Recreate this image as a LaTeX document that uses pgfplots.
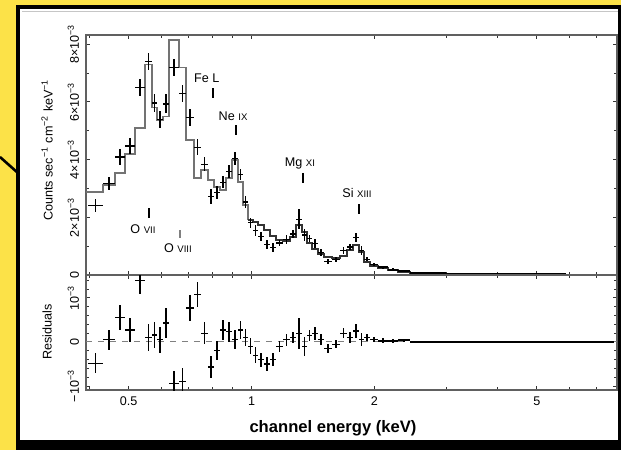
\documentclass[border=0pt]{standalone}
\usepackage{pgfplots}
\pgfplotsset{compat=1.18}
\usepackage{fontspec}
\setmainfont{Liberation Sans}
\definecolor{bgyellow}{RGB}{252,226,72}
\definecolor{modelgray}{RGB}{115,115,115}
\newcommand{\tf}{\fontsize{6.3}{7}\selectfont}
\newcommand{\sm}[1]{{\fontsize{4.8}{6}\selectfont #1}}
\begin{document}
\begin{tikzpicture}
\fill[bgyellow] (0,0) rectangle (310.5pt,225pt);
\fill[black] (8pt,0pt) rectangle (310.5pt,222.5pt);
\fill[white] (10pt,5pt) rectangle (309pt,220.5pt);
\draw[gray!45, line width=0.8pt] (11pt,219.3pt) -- (309pt,219.3pt);
\draw[black, line width=1.3pt] (0pt,146.5pt) -- (9pt,138.5pt);

\begin{axis}[scale only axis, width=265.5pt, xmode=log, xmin=0.393, xmax=7.86,
    xtick={0.5,1,2,5}, minor xtick={0.4,0.6,0.7,0.8,0.9,3,4,6,7},
    tick align=inside, major tick length=2.2pt, minor tick length=1.3pt,
    axis line style={gray!75!black, line width=0.6pt},
    tick style={black!80, line width=0.5pt},
    tick label style={font=\tf},
    yticklabel style={rotate=90, anchor=south},
  at={(43pt,87.5pt)}, anchor=south west, height=120pt,
  ymin=0, ymax=8.32, ytick={0,2,4,6,8}, minor ytick={1,3,5,7},
  yticklabels={0,{2×10\textsuperscript{−3}},{4×10\textsuperscript{−3}},{6×10\textsuperscript{−3}},{8×10\textsuperscript{−3}}},
  xticklabels={}]
\addplot[const plot, modelgray, line width=0.7pt] coordinates {
(0.3930,2.88) (0.4322,3.12) (0.4625,3.54) (0.4894,4.20) (0.5178,5.10)
(0.5480,7.30) (0.5701,5.80) (0.5864,5.35) (0.6066,5.50) (0.6274,8.15)
(0.6638,7.20) (0.6906,4.68) (0.7224,3.36) (0.7516,3.64) (0.7819,3.29)
(0.8089,3.05) (0.8368,2.95) (0.8656,3.36) (0.8953,3.99) (0.9262,3.22)
(0.9526,2.43) (0.9799,1.91)
};
\addplot[const plot, black!80, line width=0.85pt] coordinates {
(0.9799,1.91) (1.0079,1.84) (1.0368,1.73) (1.0725,1.56)
(1.1094,1.35) (1.1477,1.21) (1.1939,1.18) (1.2418,1.32) (1.2846,1.73)
(1.3288,1.49) (1.3668,1.11) (1.4060,0.90) (1.4544,0.73) (1.5045,0.62)
(1.5740,0.59) (1.6467,0.66) (1.7131,0.87) (1.7721,1.04) (1.8332,0.80)
(1.8862,0.45) (1.9511,0.31) (2.0411,0.24) (2.1596,0.17) (2.2849,0.10)
(2.4449,0.07) (2.7059,0.055) (2.9950,0.045) (3.3533,0.035) (3.7967,0.028)
(4.3470,0.022) (5.0339,0.018) (5.8970,0.014) (6.9837,0.012) (7.7326,0.012)
};
\addplot[black, only marks, mark=*, mark size=0pt, mark options={draw opacity=0, fill opacity=0},
    error bars/.cd, x dir=both, x explicit, y dir=both, y explicit,
    error mark=none, error bar style={black, line width=0.6pt}] coordinates {
(0.4147,2.40) +- (0.0175,0.23)
(0.4474,3.17) +- (0.0152,0.23)
(0.4760,4.09) +- (0.0135,0.28)
(0.5036,4.47) +- (0.0142,0.27)
(0.5329,6.50) +- (0.0151,0.30)
(0.5591,7.40) +- (0.0111,0.30)
(0.5783,5.96) +- (0.0082,0.30)
(0.5965,5.40) +- (0.0101,0.30)
(0.6170,5.93) +- (0.0104,0.33)
(0.6456,7.20) +- (0.0182,0.30)
(0.6772,6.30) +- (0.0134,0.30)
(0.7065,5.45) +- (0.0159,0.30)
(0.7370,4.43) +- (0.0146,0.28)
(0.7668,3.84) +- (0.0152,0.25)
(0.7954,2.72) +- (0.0135,0.25)
(0.8229,2.85) +- (0.0140,0.22)
(0.8512,3.22) +- (0.0144,0.22)
(0.8805,3.59) +- (0.0149,0.22)
(0.9108,4.04) +- (0.0155,0.22)
(0.9394,3.49) +- (0.0132,0.20)
(0.9663,2.53) +- (0.0137,0.20)
(0.9939,1.81) +- (0.0140,0.18)
(1.0224,1.54) +- (0.0145,0.18)
(1.0547,1.33) +- (0.0179,0.16)
(1.0910,1.06) +- (0.0185,0.16)
(1.1286,0.95) +- (0.0192,0.15)
(1.1708,1.11) +- (0.0231,0.12)
(1.2179,1.23) +- (0.0240,0.14)
(1.2632,1.42) +- (0.0214,0.13)
(1.3067,1.93) +- (0.0221,0.35)
(1.3478,1.39) +- (0.0190,0.22)
(1.3864,1.26) +- (0.0196,0.12)
(1.4302,1.10) +- (0.0242,0.15)
(1.4795,0.78) +- (0.0251,0.12)
(1.5393,0.47) +- (0.0348,0.10)
(1.6104,0.54) +- (0.0364,0.09)
(1.6799,0.86) +- (0.0332,0.12)
(1.7426,0.97) +- (0.0295,0.12)
(1.8027,1.29) +- (0.0306,0.15)
(1.8597,0.85) +- (0.0265,0.15)
(1.9187,0.55) +- (0.0325,0.08)
(1.9961,0.36) +- (0.0450,0.06)
};
\addplot[black, only marks, mark=*, mark size=0pt, mark options={draw opacity=0, fill opacity=0},
    error bars/.cd, x dir=both, x explicit, y dir=both, y explicit,
    error mark=none, error bar style={black, line width=1pt}] coordinates {
(2.1004,0.27) +- (0.0593,0.05)
(2.2223,0.19) +- (0.0627,0.04)
(2.3649,0.14) +- (0.0800,0.03)
(2.5754,0.07) +- (0.1305,0.02)
(2.8505,0.065) +- (0.1446,0.02)
(3.1742,0.045) +- (0.1792,0.02)
(3.5750,0.035) +- (0.2217,0.015)
(4.0719,0.038) +- (0.2752,0.015)
(4.6905,0.022) +- (0.3435,0.012)
(5.4655,0.018) +- (0.4316,0.012)
(6.4404,0.014) +- (0.5434,0.01)
(7.3582,0.012) +- (0.3745,0.01)
};
\node[font=\tf] at (axis cs:0.777,6.83) {Fe L};
\draw[black, line width=0.8pt] (axis cs:0.804,6.48) -- (axis cs:0.804,6.13);
\node[font=\tf] at (axis cs:0.901,5.51) {Ne \sm{IX}};
\draw[black, line width=0.8pt] (axis cs:0.916,5.2) -- (axis cs:0.916,4.85);
\node[font=\tf] at (axis cs:1.314,3.88) {Mg \sm{XI}};
\draw[black, line width=0.8pt] (axis cs:1.337,3.54) -- (axis cs:1.337,3.19);
\node[font=\tf] at (axis cs:1.813,2.84) {Si \sm{XIII}};
\draw[black, line width=0.8pt] (axis cs:1.833,2.46) -- (axis cs:1.833,2.11);
\node[font=\tf] at (axis cs:0.542,1.59) {O \sm{VII}};
\draw[black, line width=0.8pt] (axis cs:0.561,2.32) -- (axis cs:0.561,1.98);
\node[font=\tf] at (axis cs:0.66,0.94) {O \sm{VIII}};
\draw[gray, line width=0.8pt] (axis cs:0.668,1.56) -- (axis cs:0.668,1.28);
\end{axis}

\begin{axis}[scale only axis, width=265.5pt, xmode=log, xmin=0.393, xmax=7.86,
    xtick={0.5,1,2,5}, minor xtick={0.4,0.6,0.7,0.8,0.9,3,4,6,7},
    tick align=inside, major tick length=2.2pt, minor tick length=1.3pt,
    axis line style={gray!75!black, line width=0.6pt},
    tick style={black!80, line width=0.5pt},
    tick label style={font=\tf},
    yticklabel style={rotate=90, anchor=south},
  at={(43pt,30pt)}, anchor=south west, height=57.5pt,
  ymin=-1.09, ymax=1.52, ytick={-1,0,1},
  minor ytick={-0.8,-0.6,-0.4,-0.2,0.2,0.4,0.6,0.8,1.2,1.4},
  yticklabels={{−10\textsuperscript{−3}},0,{10\textsuperscript{−3}}},
  xticklabels={0.5,1,2,5}]
\addplot[gray, dashed, line width=0.5pt] coordinates {(0.393,0) (7.86,0)};
\addplot[black, only marks, mark=*, mark size=0pt, mark options={draw opacity=0, fill opacity=0},
    error bars/.cd, x dir=both, x explicit, y dir=both, y explicit,
    error mark=none, error bar style={black, line width=0.6pt}] coordinates {
(0.4147,-0.48) +- (0.0175,0.23)
(0.4474,0.05) +- (0.0152,0.23)
(0.4760,0.55) +- (0.0135,0.28)
(0.5036,0.27) +- (0.0142,0.27)
(0.5329,1.40) +- (0.0151,0.30)
(0.5591,0.10) +- (0.0111,0.30)
(0.5783,0.16) +- (0.0082,0.30)
(0.5965,0.05) +- (0.0101,0.30)
(0.6170,0.43) +- (0.0104,0.33)
(0.6456,-0.95) +- (0.0182,0.30)
(0.6772,-0.90) +- (0.0134,0.30)
(0.7065,0.77) +- (0.0159,0.30)
(0.7370,1.07) +- (0.0146,0.28)
(0.7668,0.20) +- (0.0152,0.25)
(0.7954,-0.57) +- (0.0135,0.25)
(0.8229,-0.20) +- (0.0140,0.22)
(0.8512,0.27) +- (0.0144,0.22)
(0.8805,0.23) +- (0.0149,0.22)
(0.9108,0.05) +- (0.0155,0.22)
(0.9394,0.27) +- (0.0132,0.20)
(0.9663,0.10) +- (0.0137,0.20)
(0.9939,-0.10) +- (0.0140,0.18)
(1.0224,-0.30) +- (0.0145,0.18)
(1.0547,-0.40) +- (0.0179,0.16)
(1.0910,-0.50) +- (0.0185,0.16)
(1.1286,-0.40) +- (0.0192,0.15)
(1.1708,-0.10) +- (0.0231,0.12)
(1.2179,0.05) +- (0.0240,0.14)
(1.2632,0.10) +- (0.0214,0.13)
(1.3067,0.20) +- (0.0221,0.35)
(1.3478,-0.10) +- (0.0190,0.22)
(1.3864,0.15) +- (0.0196,0.12)
(1.4302,0.20) +- (0.0242,0.15)
(1.4795,0.05) +- (0.0251,0.12)
(1.5393,-0.15) +- (0.0348,0.10)
(1.6104,-0.05) +- (0.0364,0.09)
(1.6799,0.20) +- (0.0332,0.12)
(1.7426,0.10) +- (0.0295,0.12)
(1.8027,0.25) +- (0.0306,0.15)
(1.8597,0.05) +- (0.0265,0.15)
(1.9187,0.10) +- (0.0325,0.08)
(1.9961,0.05) +- (0.0450,0.06)
};
\addplot[black, only marks, mark=*, mark size=0pt, mark options={draw opacity=0, fill opacity=0},
    error bars/.cd, x dir=both, x explicit, y dir=both, y explicit,
    error mark=none, error bar style={black, line width=1pt}] coordinates {
(2.1004,0.03) +- (0.0593,0.05)
(2.2223,0.02) +- (0.0627,0.04)
(2.3649,0.04) +- (0.0800,0.03)
(2.5754,0.00) +- (0.1305,0.02)
(2.8505,0.01) +- (0.1446,0.02)
(3.1742,0.00) +- (0.1792,0.02)
(3.5750,0.00) +- (0.2217,0.015)
(4.0719,0.01) +- (0.2752,0.015)
(4.6905,0.00) +- (0.3435,0.012)
(5.4655,0.00) +- (0.4316,0.012)
(6.4404,0.00) +- (0.5434,0.01)
(7.3582,0.00) +- (0.3745,0.01)
};
\end{axis}

\node[rotate=90, font=\tf] at (23.5pt,150pt) {Counts sec\textsuperscript{−1} cm\textsuperscript{−2} keV\textsuperscript{−1}};
\node[rotate=90, font=\tf] at (23.5pt,59pt) {Residuals};
\node[font=\bfseries\fontsize{8.3}{10}\selectfont] at (166.5pt,11pt) {channel energy (keV)};
\pgfresetboundingbox
\useasboundingbox (0,0) rectangle (310.5pt,225pt);
\end{tikzpicture}
\end{document}
